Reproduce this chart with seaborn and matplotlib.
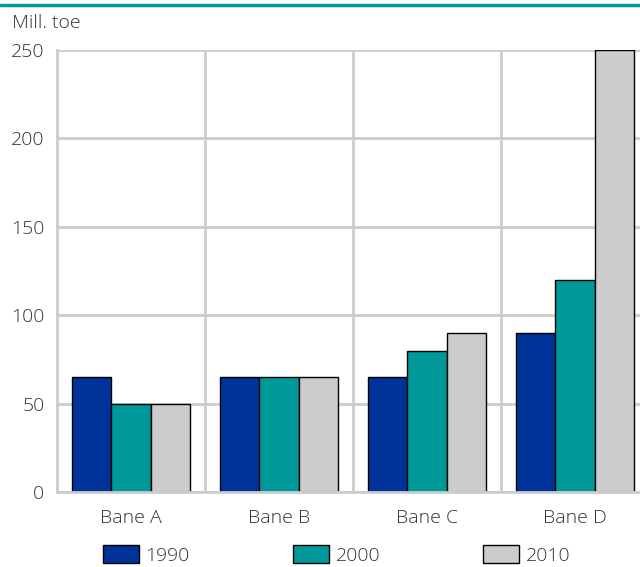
import seaborn as sns
import matplotlib.pyplot as plt
import pandas as pd
from matplotlib.ticker import FixedLocator

# data
categories = ["Bane A", "Bane B", "Bane C", "Bane D"]
years = ["1990", "2000", "2010"]
v1990 = [65, 65, 65, 90]
v2000 = [50, 65, 80, 120]
v2010 = [50, 65, 90, 250]
colors = ["#003399", "#009999", "#cccccc"]

rows = []
for yr, vals in zip(years, [v1990, v2000, v2010]):
    for c, v in zip(categories, vals):
        rows.append({"cat": c, "year": yr, "value": v})
df = pd.DataFrame(rows)

sns.set_style("white")
plt.rcParams['font.family'] = ['Open Sans', 'DejaVu Sans']
plt.rcParams['font.weight'] = 'light'
fs = 14

fig = plt.figure(figsize=(6.4, 5.67), dpi=100)
ax = fig.add_axes([57/640, 1 - 492/567, 1 - 57/640, (492 - 50)/567])

sns.barplot(data=df, x="cat", y="value", hue="year", palette=colors,
            saturation=1, edgecolor="black", linewidth=1, width=0.8, ax=ax)

ax.set_ylim(0, 250)
ax.set_xlim(-0.5, (640 - 57)/148 - 0.5)
ax.set_yticks([0, 50, 100, 150, 200, 250])
ax.xaxis.set_minor_locator(FixedLocator([0.5, 1.5, 2.5]))
ax.set_axisbelow(True)
ax.yaxis.grid(True, color="#cccccc", linewidth=2)
ax.xaxis.grid(True, which="minor", color="#cccccc", linewidth=2)
ax.xaxis.grid(False, which="major")
ax.tick_params(axis="both", which="both", length=0, labelsize=fs, colors="#333333")
ax.tick_params(axis="x", pad=12)
ax.tick_params(axis="y", pad=9)
for s in ["top", "right"]:
    ax.spines[s].set_visible(False)
for s in ["left", "bottom"]:
    ax.spines[s].set_color("#cccccc")
    ax.spines[s].set_linewidth(2)
ax.set_xlabel("")
ax.set_ylabel("")

fig.text(12/640, 1 - 23/567, "Mill. toe", fontsize=fs, color="#333333", va="center")
fig.add_artist(plt.Line2D([0, 1], [1 - 5/567, 1 - 5/567], color="#009999", linewidth=2.5))

handles, labels = ax.get_legend_handles_labels()
ax.get_legend().remove()
fig.legend(handles, labels, loc="center", bbox_to_anchor=(0.526, 1 - 555/567), ncol=3,
           frameon=False, fontsize=fs, handlelength=1.85, handleheight=1.0,
           handletextpad=0.35, columnspacing=5.3, borderaxespad=0, borderpad=0,
           labelcolor="#333333")

fig.savefig("out.png", dpi=100)
